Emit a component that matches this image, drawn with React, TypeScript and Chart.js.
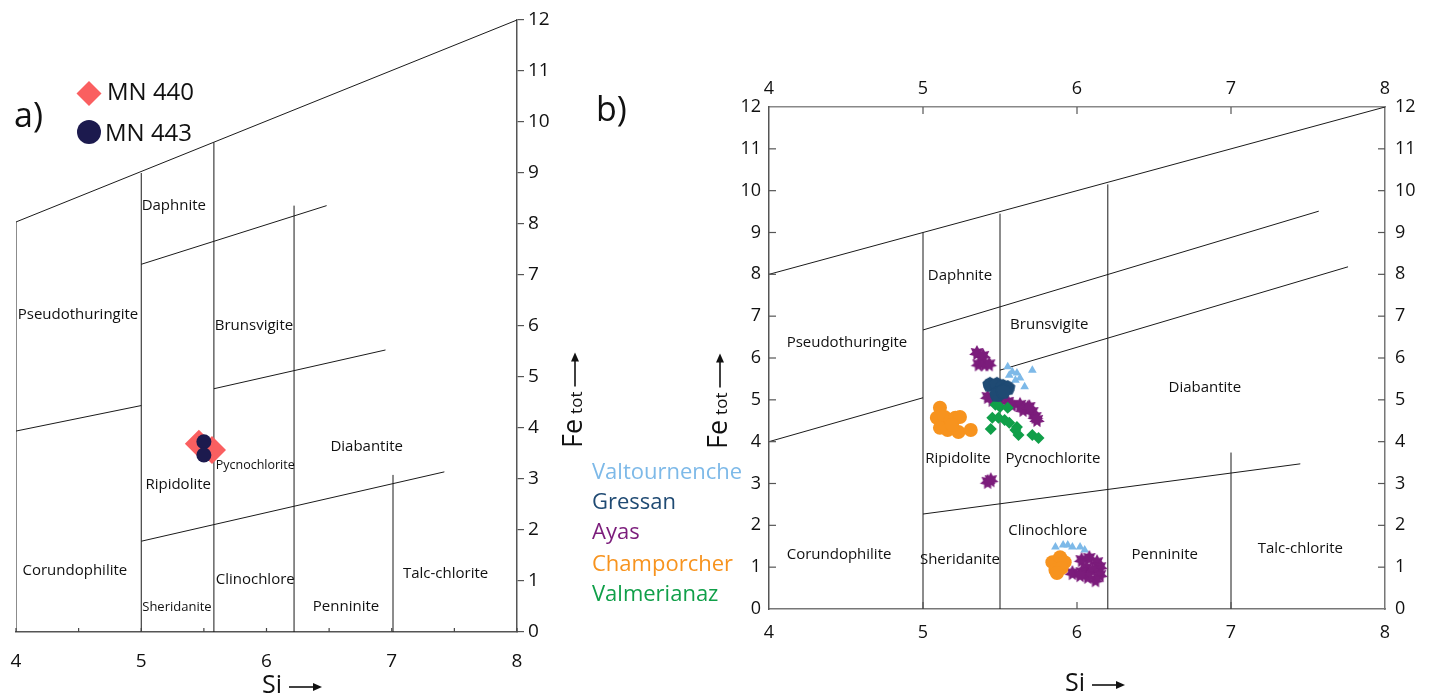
import React, { useEffect, useRef } from "react";
import { Chart, registerables } from "chart.js";
Chart.register(...registerables);

const FONT = '"Open Sans", "Noto Sans", sans-serif';
const INK = "#111";

// ---------- Panel a ----------
const A_SI_MIN = 4, A_SI_MAX = 8, A_FE_MIN = 0, A_FE_MAX = 12;
// classification boundaries: [[Si1, Fe1], [Si2, Fe2]]
const A_LINES: number[][][] = [
  [[4, 8.04], [8, 12]],
  [[4, 0], [4, 8.04]],
  [[5, 0], [5, 9.0]],
  [[5.58, 0], [5.58, 9.6]],
  [[6.22, 0], [6.22, 8.36]],
  [[7.01, 0], [7.01, 3.08]],
  [[5, 7.21], [6.48, 8.36]],
  [[4, 3.94], [5, 4.44]],
  [[5.58, 4.77], [6.95, 5.53]],
  [[5, 1.78], [7.42, 3.14]],
];
const A_REGION_NAMES = ["Daphnite", "Pseudothuringite", "Brunsvigite", "Diabantite", "Pycnochlorite", "Ripidolite", "Corundophilite", "Clinochlore", "Talc-chlorite", "Sheridanite", "Penninite"];
const A_REGION_SI = [5.26, 4.495, 5.90, 6.80, 5.91, 5.295, 4.47, 5.91, 7.43, 5.285, 6.635];
const A_REGION_FE = [8.35, 6.22, 6.0, 3.63, 3.27, 2.88, 1.20, 1.02, 1.14, 0.49, 0.49];
const A_REGION_SIZE = [15, 15, 15, 15, 12.5, 15, 15, 15, 15, 13, 15];
const MN440_SI = [5.46, 5.565];
const MN440_FE = [3.69, 3.57];
const MN443_SI = [5.50, 5.50];
const MN443_FE = [3.73, 3.47];

// ---------- Panel b ----------
const B_LINES: number[][][] = [
  [[4, 8], [8, 12]],
  [[5, 0], [5, 9.0]],
  [[5.5, 0], [5.5, 9.45]],
  [[6.2, 0], [6.2, 10.15]],
  [[7, 0], [7, 3.74]],
  [[4, 4], [5, 5.05]],
  [[5, 6.67], [7.57, 9.51]],
  [[5.5, 5.71], [7.76, 8.18]],
  [[5, 2.27], [7.45, 3.47]],
];
const B_REGION_NAMES = ["Daphnite", "Brunsvigite", "Pseudothuringite", "Diabantite", "Ripidolite", "Pycnochlorite", "Clinochlore", "Corundophilite", "Sheridanite", "Penninite", "Talc-chlorite"];
const B_REGION_SI = [5.24, 5.82, 4.506, 6.83, 5.227, 5.844, 5.81, 4.455, 5.24, 6.57, 7.45];
const B_REGION_FE = [7.96, 6.79, 6.36, 5.28, 3.59, 3.59, 1.86, 1.29, 1.17, 1.29, 1.43];

const SERIES_NAMES = ["Valtournenche", "Gressan", "Ayas", "Champorcher", "Valmerianaz"];
const SERIES_COLORS = ["#7db9e8", "#1f4a73", "#7b1c7b", "#f7931e", "#109f49"];

const VALT_SI = [5.55, 5.58, 5.61, 5.60, 5.63, 5.66, 5.71, 5.56, 5.86, 5.91, 5.94, 5.97, 6.02, 6.05];
const VALT_FE = [5.79, 5.67, 5.64, 5.47, 5.52, 5.31, 5.71, 5.59, 1.48, 1.53, 1.53, 1.48, 1.48, 1.41];
const GRES_SI = [5.435, 5.48, 5.52, 5.55, 5.49, 5.48, 5.52];
const GRES_FE = [5.36, 5.36, 5.31, 5.28, 5.16, 5.12, 5.19];
const AYAS_SI = [5.35, 5.39, 5.36, 5.40, 5.43, 5.42, 5.45, 5.50, 5.55, 5.58, 5.63, 5.68, 5.65, 5.71, 5.73, 5.74, 5.69, 5.42, 5.44, 6.03, 6.08, 6.13, 6.15, 6.06, 6.10, 6.03, 5.97, 6.15, 6.12, 6.07, 6.02];
const AYAS_FE = [6.12, 6.05, 5.85, 5.85, 5.85, 5.07, 5.0, 5.04, 4.95, 4.88, 4.88, 4.81, 4.76, 4.71, 4.59, 4.52, 4.83, 3.04, 3.08, 1.17, 1.22, 1.12, 1.0, 0.98, 0.93, 0.88, 0.86, 0.81, 0.69, 0.77, 0.81];
const CHAMP_SI = [5.11, 5.09, 5.14, 5.18, 5.21, 5.24, 5.11, 5.16, 5.23, 5.31, 5.19, 5.84, 5.89, 5.92, 5.86, 5.90, 5.87];
const CHAMP_FE = [4.81, 4.57, 4.59, 4.52, 4.57, 4.59, 4.33, 4.28, 4.23, 4.28, 4.40, 1.12, 1.24, 1.12, 0.93, 0.98, 0.86];
const VALM_SI = [5.47, 5.50, 5.55, 5.45, 5.49, 5.53, 5.56, 5.61, 5.44, 5.62, 5.71, 5.75, 5.60];
const VALM_FE = [4.88, 4.83, 4.81, 4.57, 4.57, 4.52, 4.45, 4.35, 4.30, 4.16, 4.16, 4.09, 4.28];

const zip = (xs: number[], ys: number[]) => xs.map((x, i) => ({ x, y: ys[i] }));

function polyCanvas(color: string, R: number, r: number, n: number) {
  const c = document.createElement("canvas");
  const s = Math.ceil(R * 2 + 2);
  c.width = s; c.height = s;
  const g = c.getContext("2d")!;
  g.fillStyle = color;
  g.beginPath();
  for (let i = 0; i < 2 * n; i++) {
    const rad = i % 2 === 0 ? R : r;
    const a = -Math.PI / 2 + (i * Math.PI) / n;
    g.lineTo(s / 2 + rad * Math.cos(a), s / 2 + rad * Math.sin(a));
  }
  g.closePath();
  g.fill();
  return c;
}

function lineDatasets(lines: number[][][]) {
  return lines.map((seg) => ({
    type: "line" as const,
    data: seg.map((p) => ({ x: p[0], y: p[1] })),
    borderColor: "#1a1a1a",
    borderWidth: 1,
    pointRadius: 0,
    fill: false,
    tension: 0,
    order: 10,
  }));
}

function drawArrowH(ctx: CanvasRenderingContext2D, x1: number, x2: number, y: number) {
  ctx.save();
  ctx.strokeStyle = INK; ctx.fillStyle = INK; ctx.lineWidth = 1.6;
  ctx.beginPath(); ctx.moveTo(x1, y); ctx.lineTo(x2 - 6, y); ctx.stroke();
  ctx.beginPath(); ctx.moveTo(x2, y); ctx.lineTo(x2 - 9, y - 4); ctx.lineTo(x2 - 9, y + 4); ctx.closePath(); ctx.fill();
  ctx.restore();
}

function drawFeTot(ctx: CanvasRenderingContext2D, baseX: number, bottomY: number) {
  ctx.save();
  ctx.translate(baseX, bottomY);
  ctx.rotate(-Math.PI / 2);
  ctx.fillStyle = INK;
  ctx.textAlign = "left";
  ctx.textBaseline = "alphabetic";
  ctx.font = `27px ${FONT}`;
  ctx.fillText("Fe", 0, 0);
  const w = ctx.measureText("Fe").width;
  ctx.font = `17px ${FONT}`;
  ctx.fillText("tot", w + 5, 0);
  const w2 = ctx.measureText("tot").width;
  const s = w + 5 + w2 + 5;
  ctx.strokeStyle = INK; ctx.lineWidth = 1.6;
  ctx.beginPath(); ctx.moveTo(s, -7); ctx.lineTo(s + 27, -7); ctx.stroke();
  ctx.beginPath(); ctx.moveTo(s + 34, -7); ctx.lineTo(s + 25, -11); ctx.lineTo(s + 25, -3); ctx.closePath(); ctx.fill();
  ctx.restore();
}

function drawSi(ctx: CanvasRenderingContext2D, x: number, y: number) {
  ctx.save();
  ctx.fillStyle = INK;
  ctx.font = `25px ${FONT}`;
  ctx.textAlign = "left";
  ctx.textBaseline = "middle";
  ctx.fillText("Si", x, y);
  const w = ctx.measureText("Si").width;
  ctx.restore();
  drawArrowH(ctx, x + w + 7, x + w + 40, y + 1);
}

function drawRegions(chart: any, names: string[], si: number[], fe: number[], sizes: number[] | null) {
  const ctx = chart.ctx as CanvasRenderingContext2D;
  const xs = chart.scales.x, ys = chart.scales.y;
  ctx.save();
  ctx.fillStyle = INK;
  ctx.textAlign = "center";
  ctx.textBaseline = "middle";
  names.forEach((n, i) => {
    ctx.font = `${sizes ? sizes[i] : 15}px ${FONT}`;
    ctx.fillText(n, xs.getPixelForValue(si[i]), ys.getPixelForValue(fe[i]));
  });
  ctx.restore();
}

const tickFont = (size: number) => ({ family: FONT, size });

function configA(): any {
  const deco = {
    id: "decoA",
    afterDraw(chart: any) {
      const ctx = chart.ctx as CanvasRenderingContext2D;
      const xs = chart.scales.x;
      // inner ticks on Si axis
      ctx.save();
      ctx.strokeStyle = "#444"; ctx.lineWidth = 1.2;
      for (let v = A_SI_MIN; v <= A_SI_MAX + 1e-9; v += 0.5) {
        const px = xs.getPixelForValue(v);
        ctx.beginPath(); ctx.moveTo(px, xs.top); ctx.lineTo(px, xs.top - 4); ctx.stroke();
      }
      ctx.restore();
      drawRegions(chart, A_REGION_NAMES, A_REGION_SI, A_REGION_FE, A_REGION_SIZE);
      ctx.save();
      ctx.fillStyle = INK;
      ctx.textBaseline = "middle";
      ctx.textAlign = "left";
      ctx.font = `34px ${FONT}`;
      ctx.fillText("a)", 14, 117);
      // legend markers
      ctx.fillStyle = "#fa5f60";
      ctx.beginPath(); ctx.moveTo(89, 81); ctx.lineTo(101.5, 93.5); ctx.lineTo(89, 106); ctx.lineTo(76.5, 93.5); ctx.closePath(); ctx.fill();
      ctx.fillStyle = "#1c1a4e";
      ctx.beginPath(); ctx.arc(89, 132, 12, 0, Math.PI * 2); ctx.fill();
      ctx.fillStyle = INK;
      ctx.font = `24px ${FONT}`;
      ctx.fillText("MN 440", 107, 93);
      ctx.fillText("MN 443", 105, 134);
      ctx.restore();
      drawFeTot(ctx, 582, 448);
      drawSi(ctx, 262, 686);
    },
  };
  return {
    type: "scatter",
    data: {
      datasets: [
        ...lineDatasets(A_LINES),
        { label: "MN 440", data: zip(MN440_SI, MN440_FE), pointStyle: "rectRot", pointRadius: 14, backgroundColor: "#fa5f60", borderColor: "#fa5f60", borderWidth: 0, order: 2, clip: false },
        { label: "MN 443", data: zip(MN443_SI, MN443_FE), pointStyle: "circle", pointRadius: 7.5, backgroundColor: "#1c1a4e", borderColor: "#1c1a4e", borderWidth: 0, order: 1, clip: false },
      ],
    },
    options: {
      responsive: false,
      maintainAspectRatio: false,
      animation: false,
      events: [],
      layout: { padding: { left: 16, top: 20, right: 0, bottom: 0 } },
      plugins: { legend: { display: false }, tooltip: { enabled: false } },
      scales: {
        x: {
          type: "linear", position: "bottom", min: A_SI_MIN, max: A_SI_MAX,
          afterFit: (s: any) => { s.height = 64; },
          grid: { display: false, drawTicks: true, tickLength: 18 },
          border: { display: true, color: "#555", width: 1.5 },
          ticks: { stepSize: 1, padding: 0, color: INK, font: tickFont(19), maxRotation: 0 },
        },
        y: {
          type: "linear", position: "right", min: A_FE_MIN, max: A_FE_MAX,
          afterFit: (s: any) => { s.width = 73; },
          grid: { display: true, drawOnChartArea: false, drawTicks: true, tickLength: 7, color: "#555", lineWidth: 1.2 },
          border: { display: true, color: "#555", width: 1.5 },
          ticks: { stepSize: 1, padding: 4, color: INK, font: tickFont(19) },
        },
      },
    },
    plugins: [deco],
  };
}

function configB(): any {
  const deco = {
    id: "decoB",
    afterDraw(chart: any) {
      const ctx = chart.ctx as CanvasRenderingContext2D;
      const xs = chart.scales.x, ys = chart.scales.y;
      const a = chart.chartArea;
      ctx.save();
      ctx.strokeStyle = "#555"; ctx.lineWidth = 1.2;
      for (let v = 1; v <= 11; v++) {
        const py = ys.getPixelForValue(v);
        ctx.beginPath(); ctx.moveTo(a.left, py); ctx.lineTo(a.left + 7, py); ctx.stroke();
        ctx.beginPath(); ctx.moveTo(a.right, py); ctx.lineTo(a.right - 7, py); ctx.stroke();
      }
      for (let v = 5; v <= 7; v++) {
        const px = xs.getPixelForValue(v);
        ctx.beginPath(); ctx.moveTo(px, a.top); ctx.lineTo(px, a.top + 7); ctx.stroke();
        ctx.beginPath(); ctx.moveTo(px, a.bottom); ctx.lineTo(px, a.bottom - 7); ctx.stroke();
      }
      ctx.restore();
      drawRegions(chart, B_REGION_NAMES, B_REGION_SI, B_REGION_FE, null);
      ctx.save();
      ctx.fillStyle = INK;
      ctx.textBaseline = "middle";
      ctx.textAlign = "left";
      ctx.font = `34px ${FONT}`;
      ctx.fillText("b)", 6, 111);
      ctx.font = `22px ${FONT}`;
      const ly = [473, 503, 533, 565, 595];
      SERIES_NAMES.forEach((n, i) => {
        ctx.fillStyle = SERIES_COLORS[i];
        ctx.fillText(n, 2, ly[i]);
      });
      ctx.restore();
      drawFeTot(ctx, 137, 449);
      drawSi(ctx, 475, 684);
    },
  };
  const yLabels = { stepSize: 1, color: INK, font: tickFont(18) };
  return {
    type: "scatter",
    data: {
      datasets: [
        ...lineDatasets(B_LINES),
        { label: SERIES_NAMES[0], data: zip(VALT_SI, VALT_FE), pointStyle: "triangle", pointRadius: 5, backgroundColor: SERIES_COLORS[0], borderColor: SERIES_COLORS[0], borderWidth: 0, order: 5 },
        { label: SERIES_NAMES[2], data: zip(AYAS_SI, AYAS_FE), pointStyle: polyCanvas(SERIES_COLORS[2], 8, 4.6, 7), pointRadius: 8, backgroundColor: SERIES_COLORS[2], order: 4 },
        { label: SERIES_NAMES[4], data: zip(VALM_SI, VALM_FE), pointStyle: "rectRot", pointRadius: 6, backgroundColor: SERIES_COLORS[4], borderColor: SERIES_COLORS[4], borderWidth: 0, order: 3 },
        { label: SERIES_NAMES[3], data: zip(CHAMP_SI, CHAMP_FE), pointStyle: "circle", pointRadius: 7, backgroundColor: SERIES_COLORS[3], borderColor: SERIES_COLORS[3], borderWidth: 0, order: 2 },
        { label: SERIES_NAMES[1], data: zip(GRES_SI, GRES_FE), pointStyle: polyCanvas(SERIES_COLORS[1], 8, 7, 5), pointRadius: 8, backgroundColor: SERIES_COLORS[1], order: 1 },
      ],
    },
    options: {
      responsive: false,
      maintainAspectRatio: false,
      animation: false,
      events: [],
      layout: { padding: 0 },
      plugins: { legend: { display: false }, tooltip: { enabled: false } },
      scales: {
        x: {
          type: "linear", position: "bottom", min: 4, max: 8,
          afterFit: (s: any) => { s.height = 87; },
          grid: { display: false, drawTicks: false },
          border: { display: true, color: "#777", width: 1.5 },
          ticks: { stepSize: 1, padding: 13, color: INK, font: tickFont(18), maxRotation: 0 },
        },
        x2: {
          axis: "x", type: "linear", position: "top", min: 4, max: 8,
          afterFit: (s: any) => { s.height = 107; },
          grid: { display: false, drawTicks: false },
          border: { display: true, color: "#888", width: 1.5 },
          ticks: { stepSize: 1, padding: 7, color: INK, font: tickFont(18), maxRotation: 0 },
        },
        y: {
          type: "linear", position: "left", min: 0, max: 12,
          afterFit: (s: any) => { s.width = 179; },
          grid: { display: false, drawTicks: false },
          border: { display: true, color: "#555", width: 1.5 },
          ticks: { ...yLabels, padding: 8 },
        },
        y2: {
          axis: "y", type: "linear", position: "right", min: 0, max: 12,
          afterFit: (s: any) => { s.width = 45; },
          grid: { display: false, drawTicks: false },
          border: { display: true, color: "#777", width: 1.5 },
          ticks: { ...yLabels, padding: 10 },
        },
      },
    },
    plugins: [deco],
  };
}

export default function App() {
  const refA = useRef<HTMLCanvasElement>(null);
  const refB = useRef<HTMLCanvasElement>(null);
  useEffect(() => {
    const ca = new Chart(refA.current!, configA());
    const cb = new Chart(refB.current!, configB());
    return () => { ca.destroy(); cb.destroy(); };
  }, []);
  return (
    <div style={{ position: "absolute", left: 0, top: 0, width: 1430, height: 696, background: "#fff", overflow: "hidden" }}>
      <canvas ref={refA} width={590} height={696} style={{ position: "absolute", left: 0, top: 0, width: 590, height: 696 }} />
      <canvas ref={refB} width={840} height={696} style={{ position: "absolute", left: 590, top: 0, width: 840, height: 696 }} />
    </div>
  );
}
